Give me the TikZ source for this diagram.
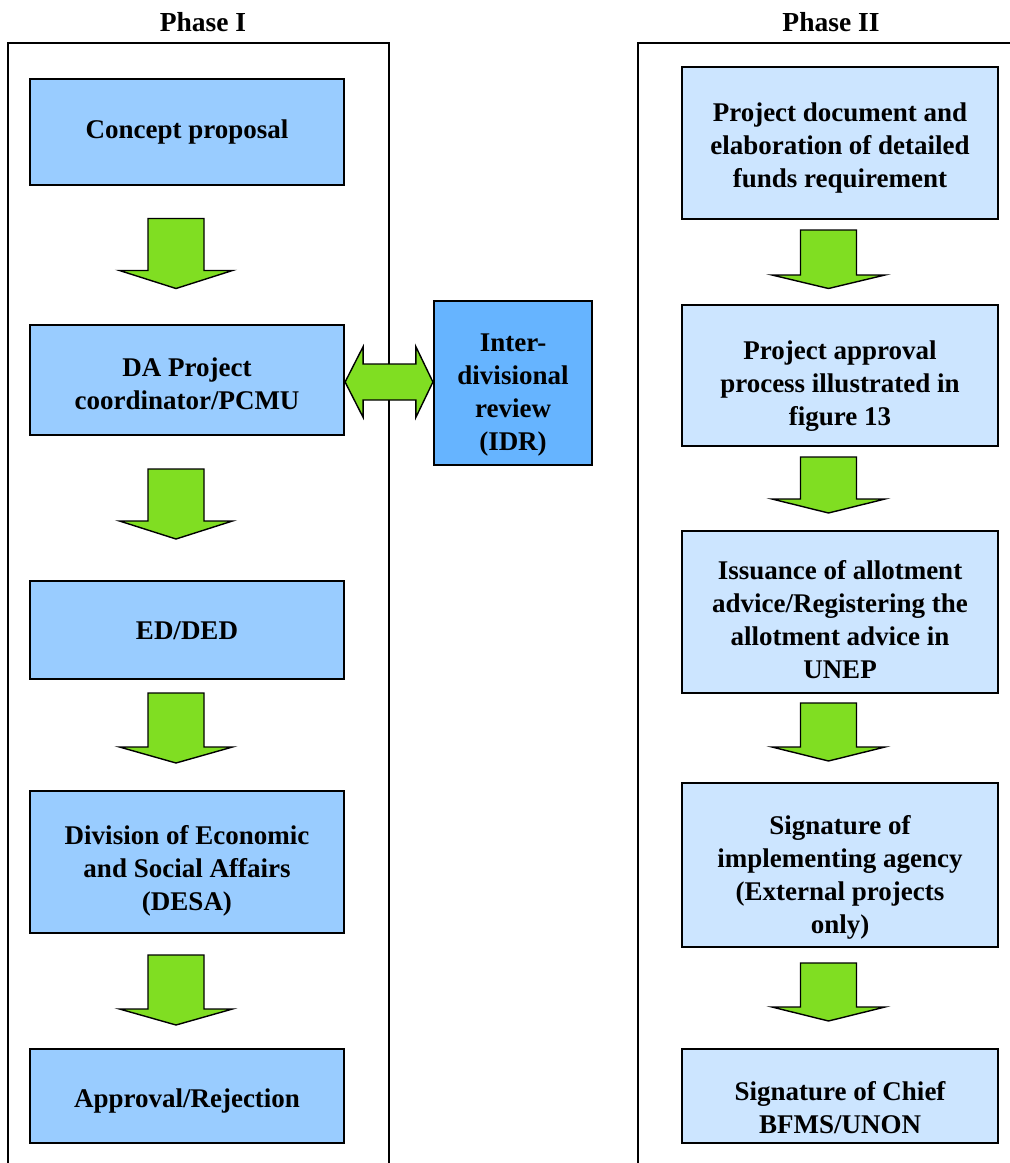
\documentclass[tikz,border=0pt]{standalone}
\usepackage{fontspec}
\setmainfont{Liberation Serif}
\usetikzlibrary{calc}
\definecolor{phaseone}{RGB}{153,204,255}
\definecolor{idrblue}{RGB}{102,180,255}
\definecolor{phasetwo}{RGB}{204,229,255}
\definecolor{arrowgreen}{RGB}{128,222,34}

% block arrow pointing down: centre x, top y, head base y, tip y
\newcommand\fatdown[4]{%
  \draw[blockarrow] (#1-28,#2) -- (#1+28,#2) -- (#1+28,#3) -- (#1+56.5,#3)
    -- (#1,#4) -- (#1-56.5,#3) -- (#1-28,#3) -- cycle;}
% caption of a box: box name, downward offset, text
\newcommand\boxtext[3]{\node[txt] (#1-t) at ($(#1.center)+(0,#2)$) {#3};}

\begin{document}
\begin{tikzpicture}[x=1pt,y=-1pt,
  box/.style={draw=black, line width=2.2pt, inner sep=0pt},
  txt/.style={inner sep=0pt, align=center, font=\fontsize{27}{33}\selectfont\bfseries},
  onebox/.style={box, fill=phaseone, minimum width=314pt},
  twobox/.style={box, fill=phasetwo, minimum width=316pt},
  heading/.style={font=\fontsize{27.5}{33}\selectfont\bfseries, inner sep=0pt},
  frame/.style={line width=2pt},
  blockarrow/.style={draw=black, fill=arrowgreen, line width=1.4pt, line join=miter}]

\useasboundingbox (0,0) rectangle (1010,1163);

% phase frames, open at the bottom
\draw[frame] (8,1163) -- (8,43) -- (389,43) -- (389,1163);
\draw[frame] (638,1163) -- (638,43) -- (1010,43);

\node[heading] (h1) at (203,22) {Phase I};
\node[heading] (h2) at (831,22) {Phase II};

% Phase I
\node[onebox, minimum height=106pt] (concept) at (187,132) {};
\node[onebox, minimum height=110pt] (da) at (187,380) {};
\node[onebox, minimum height=98pt] (ed) at (187,630) {};
\node[onebox, minimum height=142pt] (desa) at (187,862) {};
\node[onebox, minimum height=94pt] (appr) at (187,1096) {};
\node[box, fill=idrblue, minimum width=158pt, minimum height=164pt] (idr) at (513,383) {};

\boxtext{concept}{0}{Concept proposal}
\boxtext{da}{4}{DA Project\\coordinator/PCMU}
\boxtext{ed}{1}{ED/DED}
\boxtext{desa}{9}{Division of Economic\\and Social Affairs\\(DESA)}
\boxtext{appr}{5}{Approval/Rejection}
\boxtext{idr}{12}{Inter-\\divisional\\review\\(IDR)}

% Phase II
\node[twobox, minimum height=152pt] (p1) at (840,143) {};
\node[twobox, minimum height=141pt] (p2) at (840,375.5) {};
\node[twobox, minimum height=162pt] (p3) at (840,612) {};
\node[twobox, minimum height=164pt] (p4) at (840,865) {};
\node[twobox, minimum height=94pt] (p5) at (840,1096) {};

\boxtext{p1}{5}{Project document and\\elaboration of detailed\\funds requirement}
\boxtext{p2}{11}{Project approval\\process illustrated in\\figure 13}
\boxtext{p3}{8}{Issuance of allotment\\advice/Registering the\\allotment advice in\\UNEP}
\boxtext{p4}{12}{Signature of\\implementing agency\\(External projects\\only)}
\boxtext{p5}{12}{Signature of Chief\\BFMS/UNON}

% flow arrows, Phase I
\fatdown{176}{218.5}{270.5}{288.5}
\fatdown{176}{469}{521}{539}
\fatdown{176}{693}{747}{763}
\fatdown{176}{955}{1009}{1025}

% flow arrows, Phase II
\fatdown{828.5}{230}{275}{288.5}
\fatdown{828.5}{457}{499}{513}
\fatdown{828.5}{703}{747}{761}
\fatdown{828.5}{963}{1007}{1021}

% two-way arrow between the coordinator and the review
\coordinate (lt) at ($(da.east)+(0,2)$);
\coordinate (rt) at (idr.west |- lt);
\draw[blockarrow] (lt) -- ($(lt)+(18,-35.3)$) -- ($(lt)+(18,-18)$)
  -- ($(rt)+(-17,-18)$) -- ($(rt)+(-17,-35.3)$) -- (rt)
  -- ($(rt)+(-17,35.3)$) -- ($(rt)+(-17,18)$) -- ($(lt)+(18,18)$)
  -- ($(lt)+(18,35.3)$) -- cycle;

\end{tikzpicture}
\end{document}
